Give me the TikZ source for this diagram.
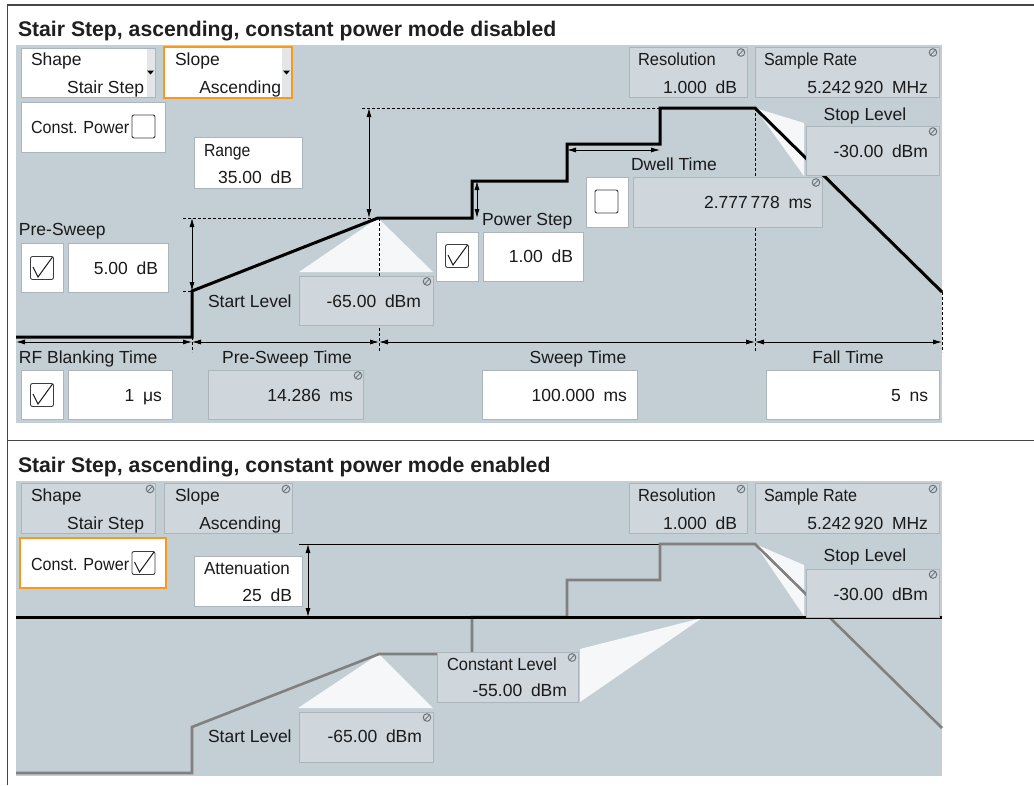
\documentclass[tikz,border=0pt]{standalone}
\usepackage{fontspec}
\usepackage{graphicx}
\setmainfont{Liberation Sans}
\usetikzlibrary{arrows.meta}
\newcommand\hsq[2]{\scalebox{#1}[1]{#2}}
\definecolor{panel}{RGB}{196,206,213}
\definecolor{disfill}{RGB}{207,215,221}
\definecolor{boxborder}{RGB}{172,181,188}
\definecolor{trifill}{RGB}{245,247,249}
\definecolor{rsorange}{RGB}{247,153,28}
\definecolor{txt}{RGB}{26,26,26}
\definecolor{iconc}{RGB}{110,118,125}
\definecolor{stairgray}{RGB}{128,128,128}
\definecolor{framec}{RGB}{70,70,70}
\definecolor{stripc}{RGB}{226,230,233}
\definecolor{chkborder}{RGB}{60,60,60}
\tikzset{
  pics/chk/.style={code={\draw[draw=chkborder,fill=white,line width=0.9pt,rounded corners=2pt] (-11.5,-11.5) rectangle (11.5,11.5);}},
  pics/chkon/.style={code={\draw[draw=chkborder,fill=white,line width=0.9pt,rounded corners=2pt] (-11.5,-11.5) rectangle (11.5,11.5);
     \draw[draw=txt,line width=1pt] (-9,-1) -- (-4,9) -- (10.5,-11);}},
  pics/dis/.style={code={\draw[iconc,line width=1pt] (0,0) circle (3.8); \draw[iconc,line width=1pt] (-2.7,2.7) -- (2.7,-2.7);}},
  pics/ddtri/.style={code={\fill[black] (-3.5,-1.5) -- (3.5,-1.5) -- (0,2.5) -- cycle;}},
}
\begin{document}
\begin{tikzpicture}[x=1pt,y=-1pt,
  every node/.style={inner sep=0pt,outer sep=0pt,text=txt,font=\fontsize{17.5}{20}\selectfont},
  wbox/.style={draw=boxborder,fill=white,line width=0.8pt},
  dbox/.style={draw=boxborder,fill=disfill,line width=0.8pt},
  obox/.style={draw=rsorange,fill=white,line width=2pt},
  tri/.style={fill=trifill},
  dsh/.style={dash pattern=on 3pt off 2pt,line width=0.7pt},
  stair/.style={line width=3pt,line join=miter},
  dimarrow/.style={line width=0.8pt,{Latex[length=9pt,width=5pt]}-{Latex[length=9pt,width=5pt]}},
  lbl/.style={anchor=base west},
  val/.style={anchor=base east},
  ctr/.style={anchor=base},
  ttl/.style={anchor=base west,text=black!88,font=\fontsize{21.2}{24}\selectfont\bfseries},
]
\useasboundingbox (0,0) rectangle (1034,785);
\fill[white] (0,0) rectangle (1034,785);
% frame
\draw[framec,line width=1.5pt] (7.5,785) -- (7.5,5) -- (1034,5);
\draw[framec,line width=1.5pt] (7.5,440.5) -- (1034,440.5);

% ================= TOP PANEL =================
\node[ttl] (title1) at (18,36) {Stair Step, ascending, constant power mode disabled};
\fill[panel] (16,45) rectangle (942,423);
% callout triangles
\fill[tri] (378,218) -- (299,272) -- (433,272) -- cycle;
\fill[tri] (755,108) -- (804,123) -- (804,176) -- cycle;
% dashed guides
\draw[dsh] (362,108) -- (660,108);
\draw[dsh] (183,218) -- (378,218);
\draw[dsh] (183,291) -- (192,291);
\draw[dsh] (192,337) -- (192,352);
\draw[dsh] (379,218) -- (379,352);
\draw[dsh] (755,108) -- (755,352);
\draw[dsh] (942,292) -- (942,352);
% stair curve
\coordinate (a0) at (16,337);
\coordinate (a1) at (192,337);
\coordinate (a2) at (192,291);
\coordinate (a3) at (378,218);
\coordinate (a4) at (472,218);
\coordinate (a5) at (472,181);
\coordinate (a6) at (567,181);
\coordinate (a7) at (567,144);
\coordinate (a8) at (660,144);
\coordinate (a9) at (660,108);
\coordinate (a10) at (755,108);
\coordinate (a11) at (942,292);
\draw[stair] (a0) -- (a1) -- (a2) -- (a3) -- (a4) -- (a5) -- (a6) -- (a7) -- (a8) -- (a9) -- (a10) -- (a11);
% dimension arrows
\coordinate (rgT) at (369,108); \coordinate (rgB) at (369,218);
\draw[dimarrow] (rgT) -- (rgB);
\coordinate (psT) at (192,218); \coordinate (psB) at (192,291);
\draw[dimarrow] (psT) -- (psB);
\coordinate (pwT) at (477,181); \coordinate (pwB) at (477,218);
\draw[dimarrow] (pwT) -- (pwB);
\coordinate (dwL) at (567,150); \coordinate (dwR) at (660,150);
\draw[dimarrow] (dwL) -- (dwR);
\coordinate (t0) at (16,342); \coordinate (t1) at (192,342);
\coordinate (t2) at (379,342); \coordinate (t3) at (755,342); \coordinate (t4) at (942,342);
\draw[dimarrow] (t0) -- (t1);
\draw[dimarrow] (t1) -- (t2);
\draw[dimarrow] (t2) -- (t3);
\draw[dimarrow] (t3) -- (t4);

% boxes
\draw[wbox] (21,48) rectangle (155,97);
\fill[stripc] (147,48.5) rectangle (154.5,96.5);
\pic at (150.5,72) {ddtri};
\draw[obox] (164,47) rectangle (292,98);
\fill[stripc] (282,48) rectangle (291,97);
\pic at (286.5,72) {ddtri};
\draw[wbox] (21,102) rectangle (165,152);
\pic at (143.5,126.5) {chk};
\draw[wbox] (194,137) rectangle (302,188);
\draw[dbox] (629,47) rectangle (747,97);   \pic at (741,52.5) {dis};
\draw[dbox] (755,47) rectangle (939,97);   \pic at (933,52.5) {dis};
\draw[dbox] (806,126) rectangle (939,175); \pic at (933,131.5) {dis};
\draw[wbox] (586,177) rectangle (628,227); \pic at (606.5,201.5) {chk};
\draw[dbox] (633,177) rectangle (822,227); \pic at (816,182.5) {dis};
\draw[wbox] (436,232) rectangle (478,281); \pic at (457,256) {chkon};
\draw[wbox] (483,232) rectangle (583,281);
\draw[wbox] (21,243) rectangle (63,292);   \pic at (42,268) {chkon};
\draw[wbox] (68,243) rectangle (168,292);
\draw[dbox] (299,276) rectangle (433,325); \pic at (427,281.5) {dis};
\draw[wbox] (21,370) rectangle (63,419);   \pic at (42,395) {chkon};
\draw[wbox] (68,370) rectangle (172,419);
\draw[dbox] (208,370) rectangle (363,419); \pic at (358,375.5) {dis};
\draw[wbox] (482,370) rectangle (637,419);
\draw[wbox] (766,370) rectangle (939,419);

% texts
\node[lbl] (shL1) at (31,65.5) {Shape};
\node[val] (shV1) at (144,93.5) {Stair Step};
\node[lbl] (slL1) at (175,65.5) {Slope};
\node[val] (slV1) at (281,93.5) {Ascending};
\node[lbl] (cpL1) at (31,133.5) {\hsq{0.92}{Const. Power}};
\node[lbl] (rgL) at (204,156.5) {\hsq{0.9}{Range}};
\node[val] (rgV) at (292,183.5) {35.00\hspace{0.5em}dB};
\node[lbl] (reL1) at (638,65.5) {\hsq{0.94}{Resolution}};
\node[val] (reV1) at (737,93.5) {1.000\hspace{0.5em}dB};
\node[lbl] (srL1) at (764,65.5) {\hsq{0.92}{Sample Rate}};
\node[val] (srV1) at (928,93.5) {5.242\,920\hspace{0.5em}MHz};
\node[ctr] (stL1) at (865,120) {Stop Level};
\node[val] (stV1) at (928,157.5) {-30.00\hspace{0.5em}dBm};
\node[lbl] (dwL1) at (631,170) {Dwell Time};
\node[val] (dwV1) at (812,208) {2.777\,778\hspace{0.5em}ms};
\node[lbl] (pwL1) at (482,225) {Power Step};
\node[val] (pwV1) at (573,262.5) {1.00\hspace{0.5em}dB};
\node[lbl] (prL1) at (19,235.5) {Pre-Sweep};
\node[val] (prV1) at (158,274) {5.00\hspace{0.5em}dB};
\node[lbl] (saL1) at (208,307.5) {Start Level};
\node[val] (saV1) at (421,307.5) {-65.00\hspace{0.5em}dBm};
\node[lbl] (rfL1) at (19,363.5) {RF Blanking Time};
\node[val] (rfV1) at (162,401.5) {1\hspace{0.5em}μs};
\node[ctr] (ptL1) at (287,363.5) {Pre-Sweep Time};
\node[val] (ptV1) at (353,401.5) {14.286\hspace{0.5em}ms};
\node[ctr] (swL1) at (578,363.5) {Sweep Time};
\node[val] (swV1) at (627,401.5) {100.000\hspace{0.5em}ms};
\node[ctr] (ftL1) at (848,363.5) {Fall Time};
\node[val] (ftV1) at (928,401.5) {5\hspace{0.5em}ns};

% ================= BOTTOM PANEL =================
\node[ttl] (title2) at (18,472) {Stair Step, ascending, constant power mode enabled};
\fill[panel] (16,481) rectangle (942,776);
% callout triangles
\fill[tri] (379,654) -- (298,708) -- (433,708) -- cycle;
\fill[tri] (580,649) -- (580,702) -- (702,618) -- cycle;
\fill[tri] (755,544) -- (804,565) -- (804,616) -- cycle;
% thin reference line
\draw[line width=0.8pt] (299,544) -- (660,544);
% gray stair
\coordinate (b0) at (16,773);
\coordinate (b1) at (192,773);
\coordinate (b2) at (192,727);
\coordinate (b3) at (379,654);
\coordinate (b4) at (472,654);
\coordinate (b5) at (472,617);
\coordinate (b6) at (567,617);
\coordinate (b7) at (567,580);
\coordinate (b8) at (660,580);
\coordinate (b9) at (660,544);
\coordinate (b10) at (755,544);
\coordinate (b11) at (942,728);
\draw[stair,stairgray,line width=2.6pt] (b0) -- (b1) -- (b2) -- (b3) -- (b4) -- (b5) -- (b6) -- (b7) -- (b8) -- (b9) -- (b10) -- (b11);
% constant level line
\coordinate (cl0) at (16,617); \coordinate (cl1) at (942,617);
\draw[line width=3pt] (cl0) -- (cl1);
% attenuation arrow
\coordinate (atT) at (308,544); \coordinate (atB) at (308,617);
\draw[dimarrow] (atT) -- (atB);

% boxes
\draw[dbox] (21,483) rectangle (155,533); \pic at (150,489) {dis};
\draw[dbox] (164,483) rectangle (292,533); \pic at (286,489) {dis};
\draw[obox] (20,538) rectangle (166,588);
\pic at (143.5,563) {chkon};
\draw[wbox] (194,556) rectangle (302,606);
\draw[dbox] (629,483) rectangle (747,533); \pic at (741,489) {dis};
\draw[dbox] (755,483) rectangle (939,533); \pic at (933,489) {dis};
\draw[dbox] (806,569) rectangle (939,617); \pic at (933,574.5) {dis};
\draw[dbox] (437,652) rectangle (578,702); \pic at (572,657.5) {dis};
\draw[dbox] (299,712) rectangle (433,762); \pic at (427,717.5) {dis};

% texts
\node[lbl] (shL2) at (31,501.5) {Shape};
\node[val] (shV2) at (144,529.5) {Stair Step};
\node[lbl] (slL2) at (175,501.5) {Slope};
\node[val] (slV2) at (281,529.5) {Ascending};
\node[lbl] (cpL2) at (31,570) {\hsq{0.92}{Const. Power}};
\node[lbl] (atL2) at (204,574) {\hsq{0.97}{Attenuation}};
\node[val] (atV2) at (292,601) {25\hspace{0.5em}dB};
\node[lbl] (reL2) at (638,501.5) {\hsq{0.94}{Resolution}};
\node[val] (reV2) at (737,529.5) {1.000\hspace{0.5em}dB};
\node[lbl] (srL2) at (764,501.5) {\hsq{0.92}{Sample Rate}};
\node[val] (srV2) at (928,529.5) {5.242\,920\hspace{0.5em}MHz};
\node[ctr] (stL2) at (865,561.5) {Stop Level};
\node[val] (stV2) at (928,600) {-30.00\hspace{0.5em}dBm};
\node[lbl] (coL2) at (447,670) {\hsq{0.94}{Constant Level}};
\node[val] (coV2) at (567,696.5) {-55.00\hspace{0.5em}dBm};
\node[lbl] (saL2) at (208,742.5) {Start Level};
\node[val] (saV2) at (422,742.5) {-65.00\hspace{0.5em}dBm};
\end{tikzpicture}
\end{document}
